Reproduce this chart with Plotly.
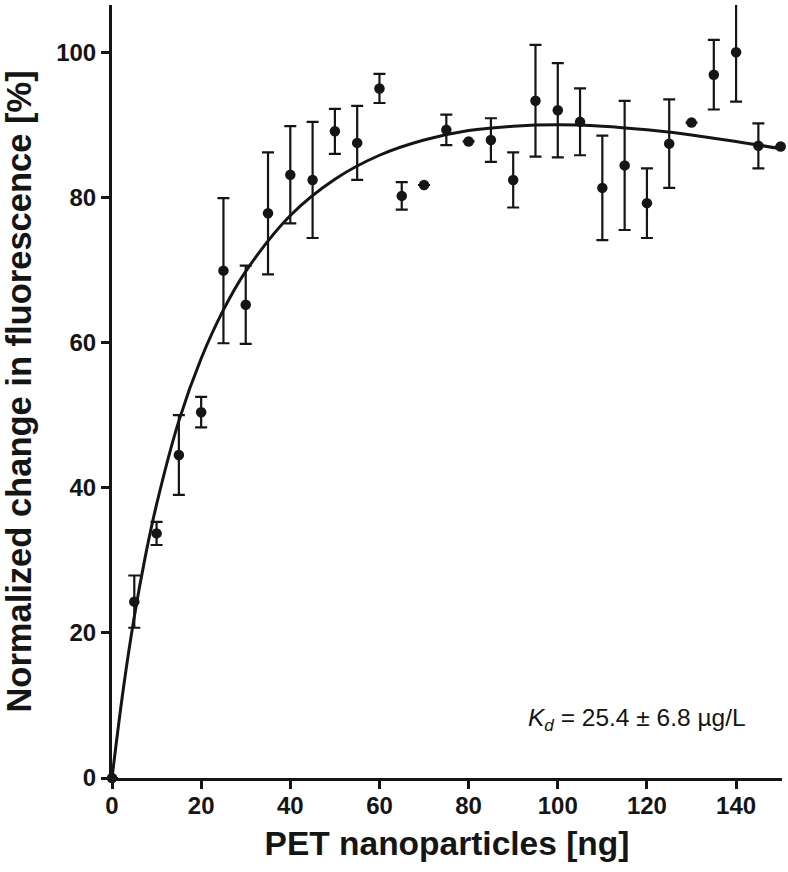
import plotly.graph_objects as go

conc_ng = [0, 5, 10, 15, 20, 25, 30, 35, 40, 45, 50, 55, 60, 65, 70, 75, 80, 85, 90,
           95, 100, 105, 110, 115, 120, 125, 130, 135, 140, 145, 150]
fluor_pct = [0, 24.3, 33.7, 44.5, 50.4, 69.9, 65.2, 77.8, 83.1, 82.4, 89.1, 87.5, 95.0,
             80.2, 81.7, 89.3, 87.7, 87.9, 82.4, 93.3, 92.0, 90.4, 81.3, 84.4, 79.2,
             87.4, 90.3, 96.9, 100.0, 87.1, 87.0]
fluor_err = [None, 3.6, 1.6, 5.5, 2.1, 10.0, 5.4, 8.4, 6.7, 8.0, 3.1, 5.1, 2.0,
             1.9, None, 2.1, None, 3.0, 3.8, 7.7, 6.5, 4.6, 7.2, 8.9, 4.8,
             6.1, None, 4.8, 6.8, 3.1, None]

# Fitted curve
fit_x = [0, 2.5, 5, 7.5, 10, 15, 20, 25, 30, 40, 50, 60, 70, 80, 90, 100,
         110, 120, 130, 140, 150]
fit_y = [0, 12.1, 22.2, 30.6, 37.7, 49.2, 57.8, 64.5, 69.8, 77.5, 82.5, 85.8,
         87.9, 89.2, 89.8, 90.0, 89.8, 89.3, 88.6, 87.7, 86.7]

x_ticks = [0, 20, 40, 60, 80, 100, 120, 140]
y_ticks = [0, 20, 40, 60, 80, 100]

FONT = "Liberation Sans, Arial, Helvetica, sans-serif"
INK = "#151515"

fig = go.Figure()

fig.add_trace(go.Scatter(
    x=fit_x, y=fit_y, mode="lines",
    line=dict(color=INK, width=3, shape="spline", smoothing=1.0),
    hoverinfo="skip", showlegend=False, cliponaxis=False,
))

fig.add_trace(go.Scatter(
    x=conc_ng, y=fluor_pct, mode="markers",
    marker=dict(color=INK, size=10.5, line=dict(width=0)),
    error_y=dict(type="data", array=fluor_err, symmetric=True,
                 color=INK, thickness=2.2, width=6),
    showlegend=False, cliponaxis=False,
))

fig.add_annotation(
    x=117.8, y=8.0, xref="x", yref="y", showarrow=False,
    text="<i>K<sub>d</sub></i> = 25.4 ± 6.8 µg/L",
    font=dict(family=FONT, size=24.5, color=INK),
)

axis_common = dict(
    showline=True, linecolor=INK, linewidth=3,
    ticks="outside", ticklen=8, tickwidth=3, tickcolor=INK,
    showgrid=False, zeroline=False, automargin=False,
    tickfont=dict(family=FONT, size=24, color=INK, weight="bold"),
)

fig.update_xaxes(
    range=[0, 150.3], tickvals=x_ticks, ticktext=[str(v) for v in x_ticks],
    ticklabelstandoff=-4,
    title=dict(text="PET nanoparticles [ng]", standoff=14,
               font=dict(family=FONT, size=33.5, color=INK, weight="bold")),
    **axis_common,
)
fig.update_yaxes(
    range=[0, 106.5], tickvals=y_ticks, ticktext=[str(v) for v in y_ticks],
    title=dict(text="Normalized change in fluorescence [%]", standoff=16,
               font=dict(family=FONT, size=34.5, color=INK, weight="bold")),
    **axis_common,
)

fig.update_layout(
    width=788, height=872,
    margin=dict(l=112, r=6, t=5, b=94, autoexpand=False),
    plot_bgcolor="white", paper_bgcolor="white",
    font=dict(family=FONT, color=INK),
)

fig.write_html(
    "out.html",
    config={"displayModeBar": False},
    post_script="document.body.style.margin='0';document.body.style.padding='0';",
)
